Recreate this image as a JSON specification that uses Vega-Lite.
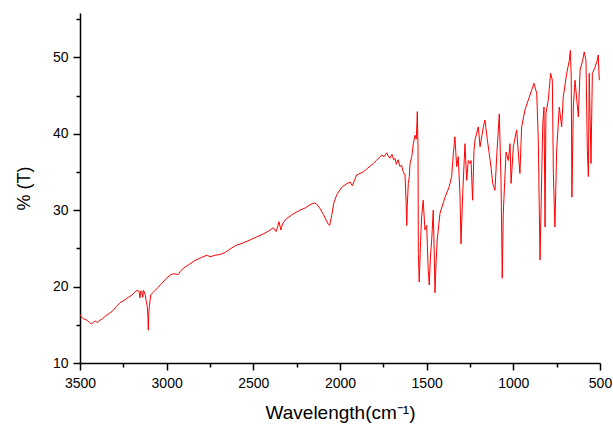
{
  "$schema": "https://vega.github.io/schema/vega-lite/v6.json",
  "width": 520,
  "height": 350,
  "autosize": {"type": "none"},
  "padding": {"left": 80, "top": 13, "right": 13, "bottom": 64},
  "background": "white",
  "config": {
    "view": {"stroke": null},
    "font": "Liberation Sans",
    "axis": {
      "grid": false,
      "domainColor": "#000000",
      "domainWidth": 1.5,
      "tickColor": "#000000",
      "tickWidth": 1.5,
      "labelColor": "#000000",
      "labelFont": "Liberation Sans",
      "labelFontSize": 14,
      "titleFont": "Liberation Sans",
      "titleFontWeight": "normal",
      "titleColor": "#000000"
    }
  },
  "data": {
    "values": [
      {"wn": 3500, "t": 16.3}, {"wn": 3490, "t": 16.0}, {"wn": 3481, "t": 15.8}, {"wn": 3460, "t": 15.6},
      {"wn": 3445, "t": 15.3}, {"wn": 3433, "t": 15.1}, {"wn": 3420, "t": 15.4}, {"wn": 3413, "t": 15.5},
      {"wn": 3400, "t": 15.3}, {"wn": 3385, "t": 15.6}, {"wn": 3370, "t": 15.8}, {"wn": 3356, "t": 16.1},
      {"wn": 3330, "t": 16.5}, {"wn": 3308, "t": 16.9}, {"wn": 3290, "t": 17.4}, {"wn": 3269, "t": 17.9},
      {"wn": 3245, "t": 18.2}, {"wn": 3221, "t": 18.6}, {"wn": 3200, "t": 18.9}, {"wn": 3183, "t": 19.3},
      {"wn": 3170, "t": 19.5}, {"wn": 3164, "t": 19.5}, {"wn": 3158, "t": 19.2}, {"wn": 3154, "t": 18.5},
      {"wn": 3150, "t": 19.4}, {"wn": 3144, "t": 19.4}, {"wn": 3138, "t": 18.6}, {"wn": 3134, "t": 19.5},
      {"wn": 3129, "t": 19.3}, {"wn": 3122, "t": 18.8}, {"wn": 3119, "t": 18.2}, {"wn": 3112, "t": 17.4},
      {"wn": 3108, "t": 16.0}, {"wn": 3106, "t": 14.3}, {"wn": 3103, "t": 16.5}, {"wn": 3100, "t": 17.4},
      {"wn": 3092, "t": 18.9}, {"wn": 3080, "t": 19.2}, {"wn": 3067, "t": 19.5}, {"wn": 3050, "t": 19.9},
      {"wn": 3029, "t": 20.4}, {"wn": 3005, "t": 21.0}, {"wn": 2981, "t": 21.5}, {"wn": 2960, "t": 21.7},
      {"wn": 2945, "t": 21.6}, {"wn": 2933, "t": 21.6}, {"wn": 2920, "t": 22.0}, {"wn": 2904, "t": 22.4},
      {"wn": 2870, "t": 22.9}, {"wn": 2837, "t": 23.4}, {"wn": 2800, "t": 23.8}, {"wn": 2779, "t": 24.0},
      {"wn": 2765, "t": 24.1}, {"wn": 2750, "t": 23.9}, {"wn": 2720, "t": 24.1}, {"wn": 2692, "t": 24.2},
      {"wn": 2660, "t": 24.5}, {"wn": 2635, "t": 24.9}, {"wn": 2600, "t": 25.4}, {"wn": 2560, "t": 25.7},
      {"wn": 2519, "t": 26.1}, {"wn": 2480, "t": 26.5}, {"wn": 2442, "t": 26.9}, {"wn": 2410, "t": 27.3},
      {"wn": 2385, "t": 27.7}, {"wn": 2375, "t": 27.4}, {"wn": 2369, "t": 27.2}, {"wn": 2360, "t": 27.8},
      {"wn": 2352, "t": 28.5}, {"wn": 2346, "t": 27.9}, {"wn": 2342, "t": 27.4}, {"wn": 2330, "t": 28.3},
      {"wn": 2308, "t": 28.9}, {"wn": 2270, "t": 29.5}, {"wn": 2231, "t": 30.0}, {"wn": 2200, "t": 30.3},
      {"wn": 2173, "t": 30.7}, {"wn": 2148, "t": 30.95}, {"wn": 2135, "t": 30.8}, {"wn": 2115, "t": 30.2},
      {"wn": 2095, "t": 29.4}, {"wn": 2080, "t": 28.7}, {"wn": 2068, "t": 28.2}, {"wn": 2060, "t": 28.0},
      {"wn": 2048, "t": 29.3}, {"wn": 2035, "t": 31.0}, {"wn": 2019, "t": 32.0}, {"wn": 2005, "t": 32.5},
      {"wn": 1990, "t": 33.0}, {"wn": 1965, "t": 33.4}, {"wn": 1942, "t": 33.7}, {"wn": 1929, "t": 33.2},
      {"wn": 1915, "t": 34.0}, {"wn": 1904, "t": 34.6}, {"wn": 1866, "t": 35.0}, {"wn": 1840, "t": 35.5},
      {"wn": 1808, "t": 36.1}, {"wn": 1790, "t": 36.5}, {"wn": 1760, "t": 37.2}, {"wn": 1745, "t": 37.0},
      {"wn": 1731, "t": 37.5}, {"wn": 1722, "t": 37.1}, {"wn": 1712, "t": 36.8}, {"wn": 1700, "t": 37.3},
      {"wn": 1690, "t": 36.6}, {"wn": 1683, "t": 36.8}, {"wn": 1675, "t": 36.0}, {"wn": 1665, "t": 36.6},
      {"wn": 1654, "t": 35.7}, {"wn": 1645, "t": 35.9}, {"wn": 1635, "t": 35.0}, {"wn": 1625, "t": 34.6},
      {"wn": 1619, "t": 31.3}, {"wn": 1615, "t": 28.0}, {"wn": 1612, "t": 30.5}, {"wn": 1606, "t": 33.5},
      {"wn": 1600, "t": 34.4}, {"wn": 1596, "t": 36.1}, {"wn": 1586, "t": 37.0}, {"wn": 1577, "t": 38.7},
      {"wn": 1567, "t": 39.8}, {"wn": 1560, "t": 39.3}, {"wn": 1556, "t": 41.5}, {"wn": 1554, "t": 42.9},
      {"wn": 1550, "t": 38.0}, {"wn": 1548, "t": 24.3}, {"wn": 1543, "t": 20.6}, {"wn": 1535, "t": 26.0},
      {"wn": 1529, "t": 29.1}, {"wn": 1520, "t": 31.3}, {"wn": 1510, "t": 27.4}, {"wn": 1500, "t": 28.0},
      {"wn": 1491, "t": 22.2}, {"wn": 1485, "t": 20.2}, {"wn": 1478, "t": 24.0}, {"wn": 1471, "t": 26.1},
      {"wn": 1462, "t": 30.0}, {"wn": 1456, "t": 24.0}, {"wn": 1452, "t": 19.2}, {"wn": 1446, "t": 23.0},
      {"wn": 1439, "t": 26.1}, {"wn": 1423, "t": 29.6}, {"wn": 1394, "t": 31.7}, {"wn": 1371, "t": 33.0},
      {"wn": 1356, "t": 34.4}, {"wn": 1346, "t": 37.4}, {"wn": 1337, "t": 39.6}, {"wn": 1327, "t": 35.7},
      {"wn": 1318, "t": 37.0}, {"wn": 1308, "t": 32.2}, {"wn": 1302, "t": 25.6}, {"wn": 1292, "t": 32.2},
      {"wn": 1279, "t": 38.7}, {"wn": 1269, "t": 33.9}, {"wn": 1260, "t": 36.5}, {"wn": 1250, "t": 36.1},
      {"wn": 1244, "t": 36.5}, {"wn": 1235, "t": 31.3}, {"wn": 1227, "t": 37.8}, {"wn": 1221, "t": 39.2},
      {"wn": 1202, "t": 40.9}, {"wn": 1192, "t": 38.3}, {"wn": 1173, "t": 40.9}, {"wn": 1164, "t": 41.8},
      {"wn": 1150, "t": 39.2}, {"wn": 1139, "t": 37.4}, {"wn": 1128, "t": 35.5}, {"wn": 1119, "t": 33.5},
      {"wn": 1106, "t": 32.6}, {"wn": 1096, "t": 37.0}, {"wn": 1081, "t": 42.6}, {"wn": 1071, "t": 33.9},
      {"wn": 1064, "t": 21.1}, {"wn": 1058, "t": 29.6}, {"wn": 1042, "t": 37.6}, {"wn": 1029, "t": 36.5},
      {"wn": 1019, "t": 38.7}, {"wn": 1013, "t": 33.5}, {"wn": 1000, "t": 38.3}, {"wn": 981, "t": 40.5},
      {"wn": 962, "t": 34.8}, {"wn": 952, "t": 40.9}, {"wn": 933, "t": 43.1}, {"wn": 914, "t": 44.4},
      {"wn": 894, "t": 45.7}, {"wn": 881, "t": 46.6}, {"wn": 865, "t": 45.3}, {"wn": 856, "t": 39.2},
      {"wn": 846, "t": 23.5}, {"wn": 836, "t": 34.8}, {"wn": 830, "t": 41.3}, {"wn": 823, "t": 43.5},
      {"wn": 817, "t": 27.8}, {"wn": 812, "t": 42.6}, {"wn": 798, "t": 44.5}, {"wn": 785, "t": 47.9},
      {"wn": 775, "t": 47.0}, {"wn": 769, "t": 34.8}, {"wn": 760, "t": 27.8}, {"wn": 750, "t": 37.8},
      {"wn": 735, "t": 43.5}, {"wn": 721, "t": 40.9}, {"wn": 712, "t": 44.8}, {"wn": 692, "t": 47.9},
      {"wn": 677, "t": 49.6}, {"wn": 671, "t": 50.9}, {"wn": 666, "t": 47.4}, {"wn": 662, "t": 31.7},
      {"wn": 654, "t": 43.5}, {"wn": 644, "t": 47.0}, {"wn": 625, "t": 42.2}, {"wn": 615, "t": 48.3},
      {"wn": 600, "t": 49.6}, {"wn": 591, "t": 50.7}, {"wn": 581, "t": 49.6}, {"wn": 573, "t": 37.8},
      {"wn": 567, "t": 34.4}, {"wn": 562, "t": 47.9}, {"wn": 552, "t": 36.1}, {"wn": 544, "t": 47.9},
      {"wn": 529, "t": 48.7}, {"wn": 516, "t": 49.6}, {"wn": 510, "t": 50.3}, {"wn": 504, "t": 47.0}
    ]
  },
  "mark": {"type": "line", "color": "#ff0000", "strokeWidth": 1, "interpolate": "linear"},
  "encoding": {
    "x": {
      "field": "wn",
      "type": "quantitative",
      "sort": null,
      "scale": {"domain": [500, 3500], "reverse": true, "nice": false, "zero": false},
      "axis": {
        "title": "Wavelength(cm⁻¹)",
        "titleFontSize": 19,
        "values": [500, 750, 1000, 1250, 1500, 1750, 2000, 2250, 2500, 2750, 3000, 3250, 3500],
        "labelExpr": "datum.value % 500 === 0 ? datum.value : ''",
        "tickSize": {"condition": {"test": "datum.value % 500 !== 0", "value": 4}, "value": 7},
        "labelPadding": 6,
        "titlePadding": 13,
        "labelFlush": false,
        "labelOverlap": false
      }
    },
    "y": {
      "field": "t",
      "type": "quantitative",
      "scale": {"domain": [10, 55.8], "nice": false, "zero": false},
      "axis": {
        "title": "% (T)",
        "titleFontSize": 18,
        "values": [10, 15, 20, 25, 30, 35, 40, 45, 50, 55],
        "labelExpr": "datum.value % 10 === 0 ? datum.value : ''",
        "tickSize": {"condition": {"test": "datum.value % 10 !== 0", "value": 4}, "value": 7},
        "labelPadding": 5,
        "titlePadding": 19,
        "labelFlush": false,
        "labelOverlap": false
      }
    }
  }
}
